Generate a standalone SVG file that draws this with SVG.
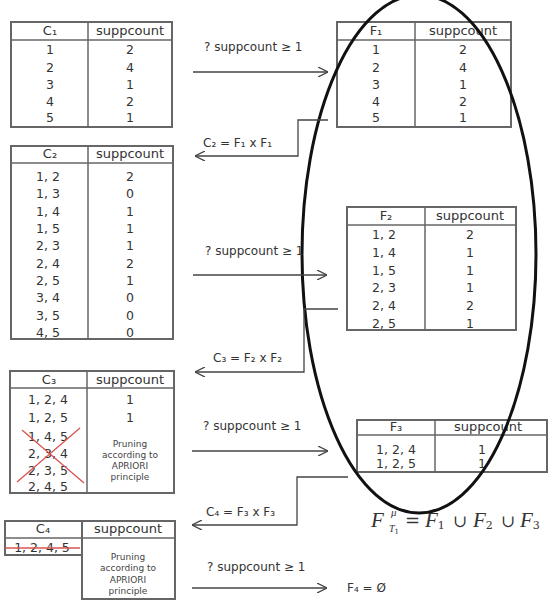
<svg xmlns="http://www.w3.org/2000/svg" width="556" height="612" viewBox="0 0 556 612">
<style>
.bx{fill:none;stroke:#666;stroke-width:2}
.ln{stroke:#666;stroke-width:1.5}
.t{font-family:"DejaVu Sans","Liberation Sans",sans-serif;font-size:12.5px;fill:#333;text-anchor:middle}
.h{font-size:13px}
.lb{font-family:"DejaVu Sans","Liberation Sans",sans-serif;font-size:12px;fill:#333}
.sm{font-family:"DejaVu Sans","Liberation Sans",sans-serif;font-size:9px;fill:#444;text-anchor:middle}
.c{fill:none;stroke:#444;stroke-width:1.3}
.x{stroke:#d9534f;stroke-width:1.3}
.m{font-family:"Liberation Serif","DejaVu Serif",serif;font-style:italic;fill:#333}
.mn{font-family:"DejaVu Serif","Liberation Serif",serif;font-style:normal;fill:#333}
</style>
<defs>
<marker id="ah" viewBox="0 0 10 10" refX="10" refY="5" markerWidth="10" markerHeight="10" markerUnits="userSpaceOnUse" orient="auto">
<path d="M0,0 L10,5 L0,10" fill="none" stroke="#444" stroke-width="1.3"/>
</marker>
</defs>
<rect width="556" height="612" fill="#fff"/>

<g id="C1">
<rect class="bx" x="11" y="22" width="161" height="105"/>
<line class="ln" x1="11" y1="40" x2="172" y2="40"/>
<line class="ln" x1="88" y1="22" x2="88" y2="127"/>
<text class="t h" x="50" y="35">C₁</text><text class="t h" x="130" y="35">suppcount</text>
<text class="t" x="50" y="54">1</text><text class="t" x="130" y="54">2</text>
<text class="t" x="50" y="72">2</text><text class="t" x="130" y="72">4</text>
<text class="t" x="50" y="89">3</text><text class="t" x="130" y="89">1</text>
<text class="t" x="50" y="106">4</text><text class="t" x="130" y="106">2</text>
<text class="t" x="50" y="122">5</text><text class="t" x="130" y="122">1</text>
</g>

<g id="F1">
<rect class="bx" x="337" y="22" width="174" height="105"/>
<line class="ln" x1="337" y1="40" x2="511" y2="40"/>
<line class="ln" x1="415" y1="22" x2="415" y2="127"/>
<text class="t h" x="376" y="35">F₁</text><text class="t h" x="463" y="35">suppcount</text>
<text class="t" x="376" y="54">1</text><text class="t" x="463" y="54">2</text>
<text class="t" x="376" y="72">2</text><text class="t" x="463" y="72">4</text>
<text class="t" x="376" y="89">3</text><text class="t" x="463" y="89">1</text>
<text class="t" x="376" y="106">4</text><text class="t" x="463" y="106">2</text>
<text class="t" x="376" y="122">5</text><text class="t" x="463" y="122">1</text>
</g>

<g id="C2">
<rect class="bx" x="11" y="146" width="162" height="193"/>
<line class="ln" x1="11" y1="163" x2="173" y2="163"/>
<line class="ln" x1="88" y1="146" x2="88" y2="339"/>
<text class="t h" x="50" y="158">C₂</text><text class="t h" x="130" y="158">suppcount</text>
<text class="t" x="48" y="181">1, 2</text><text class="t" x="130" y="181">2</text>
<text class="t" x="48" y="198">1, 3</text><text class="t" x="130" y="198">0</text>
<text class="t" x="48" y="216">1, 4</text><text class="t" x="130" y="216">1</text>
<text class="t" x="48" y="233">1, 5</text><text class="t" x="130" y="233">1</text>
<text class="t" x="48" y="250">2, 3</text><text class="t" x="130" y="250">1</text>
<text class="t" x="48" y="268">2, 4</text><text class="t" x="130" y="268">2</text>
<text class="t" x="48" y="285">2, 5</text><text class="t" x="130" y="285">1</text>
<text class="t" x="48" y="302">3, 4</text><text class="t" x="130" y="302">0</text>
<text class="t" x="48" y="320">3, 5</text><text class="t" x="130" y="320">0</text>
<text class="t" x="48" y="337">4, 5</text><text class="t" x="130" y="337">0</text>
</g>

<g id="F2">
<rect class="bx" x="347" y="207" width="169" height="123"/>
<line class="ln" x1="347" y1="225" x2="516" y2="225"/>
<line class="ln" x1="425" y1="207" x2="425" y2="330"/>
<text class="t h" x="386" y="220">F₂</text><text class="t h" x="470" y="220">suppcount</text>
<text class="t" x="384" y="239">1, 2</text><text class="t" x="470" y="239">2</text>
<text class="t" x="384" y="257">1, 4</text><text class="t" x="470" y="257">1</text>
<text class="t" x="384" y="275">1, 5</text><text class="t" x="470" y="275">1</text>
<text class="t" x="384" y="292">2, 3</text><text class="t" x="470" y="292">1</text>
<text class="t" x="384" y="310">2, 4</text><text class="t" x="470" y="310">2</text>
<text class="t" x="384" y="328">2, 5</text><text class="t" x="470" y="328">1</text>
</g>

<g id="C3">
<rect class="bx" x="10" y="371" width="164" height="122"/>
<line class="ln" x1="10" y1="388" x2="174" y2="388"/>
<line class="ln" x1="87" y1="371" x2="87" y2="493"/>
<text class="t h" x="49" y="384">C₃</text><text class="t h" x="130" y="384">suppcount</text>
<text class="t" x="48" y="404">1, 2, 4</text><text class="t" x="130" y="404">1</text>
<text class="t" x="48" y="422">1, 2, 5</text><text class="t" x="130" y="422">1</text>
<text class="t" x="48" y="441">1, 4, 5</text>
<text class="t" x="48" y="458">2, 3, 4</text>
<text class="t" x="48" y="475">2, 3, 5</text>
<text class="t" x="48" y="491">2, 4, 5</text>
<line class="x" x1="22" y1="430" x2="84" y2="483"/>
<line class="x" x1="80" y1="428" x2="17" y2="482"/>
<text class="sm" x="130" y="447">Pruning</text>
<text class="sm" x="130" y="458">according to</text>
<text class="sm" x="130" y="469">APRIORI</text>
<text class="sm" x="130" y="480">principle</text>
</g>

<g id="F3">
<rect class="bx" x="357" y="420" width="190" height="52"/>
<line class="ln" x1="357" y1="435" x2="547" y2="435"/>
<line class="ln" x1="435" y1="420" x2="435" y2="472"/>
<text class="t h" x="396" y="431">F₃</text><text class="t h" x="488" y="431">suppcount</text>
<text class="t" x="396" y="454">1, 2, 4</text><text class="t" x="482" y="454">1</text>
<text class="t" x="396" y="468">1, 2, 5</text><text class="t" x="482" y="468">1</text>
</g>

<g id="C4">
<rect class="bx" x="5" y="521" width="77" height="34"/>
<rect class="bx" x="82" y="521" width="93" height="78"/>
<line class="ln" x1="5" y1="538" x2="175" y2="538"/>
<text class="t h" x="43" y="533">C₄</text><text class="t h" x="128" y="533">suppcount</text>
<text class="t" x="42" y="552">1, 2, 4, 5</text>
<line class="x" x1="5" y1="548" x2="80" y2="548"/>
<text class="sm" x="128" y="560">Pruning</text>
<text class="sm" x="128" y="571">according to</text>
<text class="sm" x="128" y="583">APRIORI</text>
<text class="sm" x="128" y="594">principle</text>
</g>

<g id="F4">
<text class="lb" x="347" y="592">F₄ = Ø</text>
</g>

<ellipse cx="419" cy="254" rx="117" ry="259" fill="none" stroke="#111" stroke-width="3"/>

<g id="formula">
<text class="m" x="371" y="527" font-size="21">F</text>
<text class="m" x="391" y="516" font-size="11">μ</text>
<text class="m" x="389" y="532" font-size="10">T<tspan class="mn" font-size="7" dy="1.5">1</tspan></text>
<text class="mn" x="405" y="527" font-size="18">=</text>
<text class="m" x="425" y="527" font-size="21">F<tspan class="mn" font-size="11" dy="2">1</tspan></text>
<text class="mn" x="453" y="527" font-size="17">∪</text>
<text class="m" x="473" y="527" font-size="21">F<tspan class="mn" font-size="11" dy="2">2</tspan></text>
<text class="mn" x="501" y="527" font-size="17">∪</text>
<text class="m" x="520" y="527" font-size="21">F<tspan class="mn" font-size="11" dy="2">3</tspan></text>
</g>

<g id="connectors">
<line class="c" x1="193" y1="72" x2="328" y2="72" marker-end="url(#ah)"/>
<text class="lb" x="204" y="51">? suppcount ≥ 1</text>
<polyline class="c" points="328,120 298,120 298,156 195,156" marker-end="url(#ah)"/>
<text class="lb" x="203" y="147">C₂ = F₁ x F₁</text>

<line class="c" x1="193" y1="275" x2="327" y2="275" marker-end="url(#ah)"/>
<text class="lb" x="205" y="255">? suppcount ≥ 1</text>
<polyline class="c" points="338,309 304,309 304,372 195,372" marker-end="url(#ah)"/>
<text class="lb" x="213" y="362">C₃ = F₂ x F₂</text>

<line class="c" x1="192" y1="451" x2="328" y2="451" marker-end="url(#ah)"/>
<text class="lb" x="203" y="430">? suppcount ≥ 1</text>
<polyline class="c" points="348,477 297,477 297,525 192,525" marker-end="url(#ah)"/>
<text class="lb" x="206" y="516">C₄ = F₃ x F₃</text>

<line class="c" x1="192" y1="588" x2="327" y2="588" marker-end="url(#ah)"/>
<text class="lb" x="207" y="571">? suppcount ≥ 1</text>
</g>
</svg>
